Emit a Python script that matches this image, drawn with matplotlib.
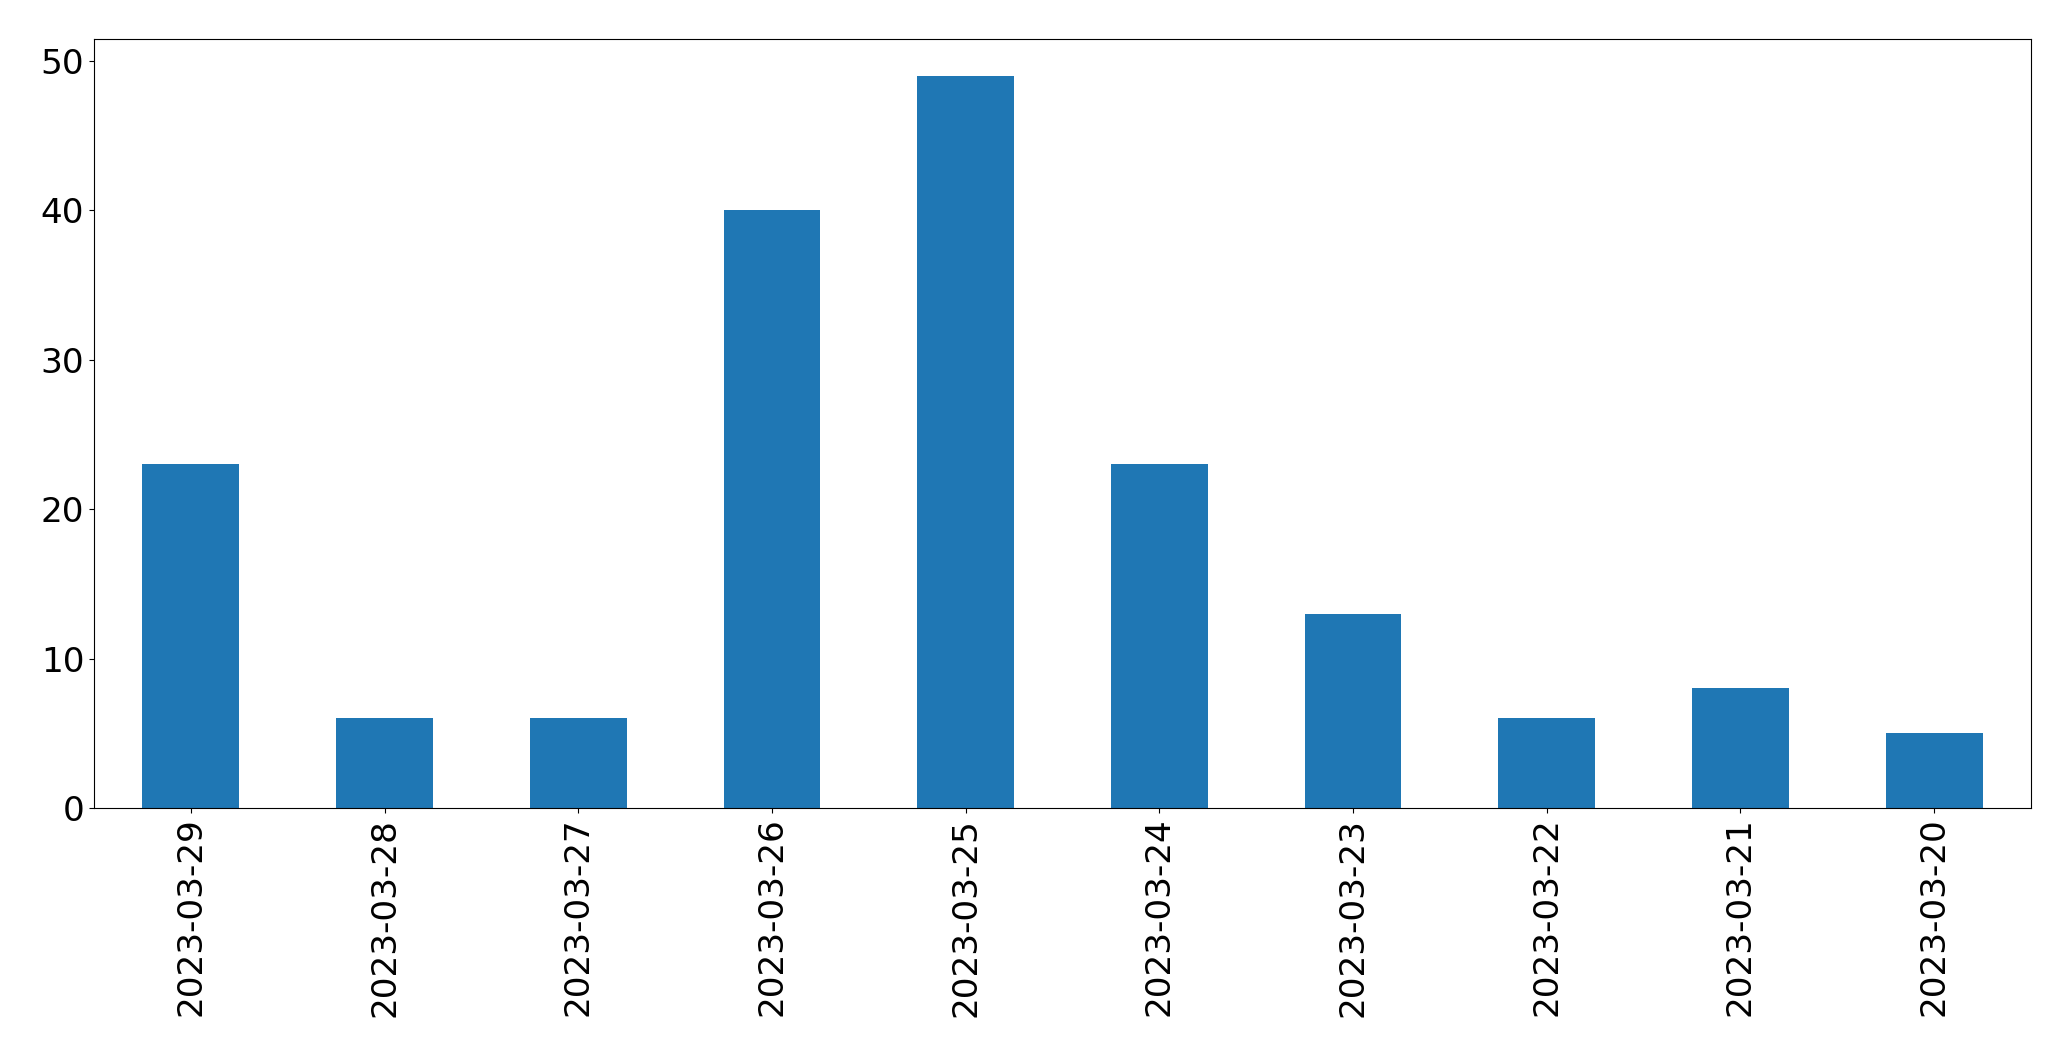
import matplotlib
matplotlib.use("Agg")
from matplotlib import pyplot as plt

dates = ["2023-03-29", "2023-03-28", "2023-03-27", "2023-03-26", "2023-03-25",
         "2023-03-24", "2023-03-23", "2023-03-22", "2023-03-21", "2023-03-20"]
counts = [23, 6, 6, 40, 49, 23, 13, 6, 8, 5]

fig = plt.figure(figsize=(20.71, 10.61), dpi=100)
ax = fig.add_axes([94 / 2071, 1 - 808 / 1061, (2031 - 94) / 2071, (808 - 39) / 1061])
x = range(len(dates))
ax.bar(x, counts, width=0.5, color="#1f77b4")
ax.set_xticks(list(x))
ax.set_xticklabels(dates, rotation=90)
ax.set_xlim(-0.5, len(dates) - 0.5)
ax.tick_params(labelsize=24.7)
fig.savefig("out.png", dpi=100)
